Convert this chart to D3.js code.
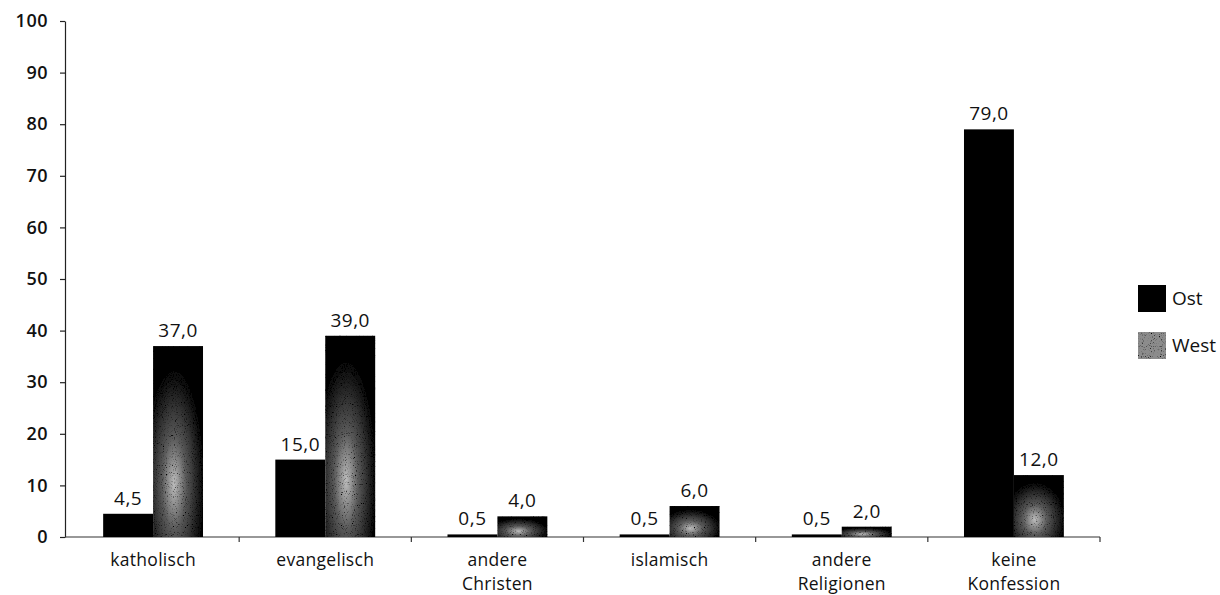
<!DOCTYPE html>
<html>
<head>
<meta charset="utf-8">
<script src="https://cdn.jsdelivr.net/npm/d3@7"></script>
<style>
  body { margin: 0; background: #fff; }
  svg { display: block; font-family: "Open Sans", Lato, sans-serif; }
</style>
</head>
<body>
<svg width="1220" height="595"></svg>
<script>
// data
const categories = ["katholisch", "evangelisch", "andere Christen", "islamisch", "andere Religionen", "keine Konfession"];
const categoryLines = [["katholisch"], ["evangelisch"], ["andere", "Christen"], ["islamisch"], ["andere", "Religionen"], ["keine", "Konfession"]];
const series = ["Ost", "West"];
const ost = [4.5, 15.0, 0.5, 0.5, 0.5, 79.0];
const west = [37.0, 39.0, 4.0, 6.0, 2.0, 12.0];
const yTicks = [0, 10, 20, 30, 40, 50, 60, 70, 80, 90, 100];

const values = { Ost: ost, West: west };
const fmt = v => v.toFixed(1).replace(".", ",");

const margin = ({ top: 21, right: 120, bottom: 58, left: 65 });
const width = 1220, height = 595;
const font = "'Open Sans', Lato, sans-serif";

const svg = d3.select("svg");

// West texture: radial gradient plus speckles
const defs = svg.append("defs");
const grad = defs.append("radialGradient")
  .attr("id", "westGrad")
  .attr("cx", 0.42).attr("cy", 0.72).attr("r", 0.6);
grad.append("stop").attr("offset", 0).attr("stop-color", "#bdbdbd");
grad.append("stop").attr("offset", 0.4).attr("stop-color", "#5a5a5a");
grad.append("stop").attr("offset", 1).attr("stop-color", "#030303");

const speck = defs.append("filter").attr("id", "speck")
  .attr("x", 0).attr("y", 0).attr("width", 1).attr("height", 1);
speck.append("feTurbulence")
  .attr("type", "fractalNoise").attr("baseFrequency", 0.9)
  .attr("numOctaves", 2).attr("seed", 3).attr("result", "noise");
speck.append("feColorMatrix").attr("in", "noise").attr("type", "matrix")
  .attr("values", "0 0 0 0 0  0 0 0 0 0  0 0 0 0 0  4 0 0 0 -2.3")
  .attr("result", "dots");
speck.append("feComposite").attr("in", "dots").attr("in2", "SourceGraphic")
  .attr("operator", "in").attr("result", "dotsIn");
const merge = speck.append("feMerge");
merge.append("feMergeNode").attr("in", "SourceGraphic");
merge.append("feMergeNode").attr("in", "dotsIn");

const color = d3.scaleOrdinal(series, ["#000", "url(#westGrad)"]);

const x = d3.scaleBand()
  .domain(categories)
  .range([67, 1100])
  .paddingInner(0.42)
  .paddingOuter(0.21);

const xs = d3.scaleBand()
  .domain(series)
  .range([0, x.bandwidth()]);

const y = d3.scaleLinear()
  .domain([0, 100])
  .range([height - margin.bottom, margin.top]);

// y axis
svg.append("g")
  .attr("transform", `translate(${margin.left},0)`)
  .call(d3.axisLeft(y).tickValues(yTicks).tickSize(5).tickSizeOuter(0).tickPadding(12))
  .call(g => g.select(".domain").attr("stroke", "#222").attr("stroke-width", 1.2))
  .call(g => g.selectAll(".tick line").attr("stroke", "#222").attr("stroke-width", 1.2))
  .call(g => g.selectAll(".tick text")
    .attr("font-family", font)
    .attr("font-size", 18).attr("font-weight", 600)
    .attr("letter-spacing", 0.5).attr("fill", "#111"));

// x axis with ticks at band boundaries
const half = x.step() * x.paddingInner() / 2;
const bounds = categories.map(c => x(c) + x.bandwidth() + half);
const xAxis = svg.append("g");
xAxis.append("line")
  .attr("x1", margin.left).attr("x2", x.range()[1])
  .attr("y1", y(0)).attr("y2", y(0))
  .attr("stroke", "#333").attr("stroke-width", 1.2);
xAxis.selectAll("line.tick")
  .data(bounds)
  .join("line")
  .attr("class", "tick")
  .attr("x1", d => d).attr("x2", d => d)
  .attr("y1", y(0)).attr("y2", y(0) + 5)
  .attr("stroke", "#333").attr("stroke-width", 1.2);

xAxis.selectAll("text")
  .data(categories)
  .join("text")
  .attr("x", d => x(d) + x.bandwidth() / 2)
  .attr("y", y(0) + 29)
  .attr("text-anchor", "middle")
  .attr("font-size", 17.5)
  .attr("letter-spacing", 0.3)
  .attr("fill", "#111")
  .selectAll("tspan")
  .data((d, i) => categoryLines[i])
  .join("tspan")
  .attr("x", function () { return this.parentNode.getAttribute("x"); })
  .attr("dy", (d, i) => i === 0 ? 0 : 24)
  .text(d => d);

// bars
const flat = categories.flatMap((c, i) => series.map(s => ({ cat: c, key: s, value: values[s][i] })));

svg.append("g")
  .selectAll("rect")
  .data(flat)
  .join("rect")
  .attr("x", d => x(d.cat) + xs(d.key))
  .attr("y", d => y(d.value))
  .attr("width", xs.bandwidth())
  .attr("height", d => y(0) - y(d.value))
  .attr("fill", d => color(d.key))
  .attr("filter", d => d.key === "West" ? "url(#speck)" : null);

svg.append("g")
  .selectAll("text")
  .data(flat)
  .join("text")
  .attr("x", d => x(d.cat) + xs(d.key) + xs.bandwidth() / 2)
  .attr("y", d => y(d.value) - 9)
  .attr("text-anchor", "middle")
  .attr("font-size", 19)
  .attr("letter-spacing", 0.5)
  .attr("fill", "#111")
  .text(d => fmt(d.value));

// legend
const legend = svg.append("g")
  .attr("transform", "translate(1138,285)")
  .selectAll("g")
  .data(series)
  .join("g")
  .attr("transform", (d, i) => `translate(0,${i * 47})`);

legend.append("rect")
  .attr("width", 28).attr("height", 27)
  .attr("fill", d => d === "Ost" ? "#000" : "#8c8c8c")
  .attr("filter", d => d === "West" ? "url(#speck)" : null);

legend.append("text")
  .attr("x", 34).attr("y", 20)
  .attr("font-size", 19)
  .attr("fill", "#111")
  .text(d => d);
</script>
</body>
</html>
